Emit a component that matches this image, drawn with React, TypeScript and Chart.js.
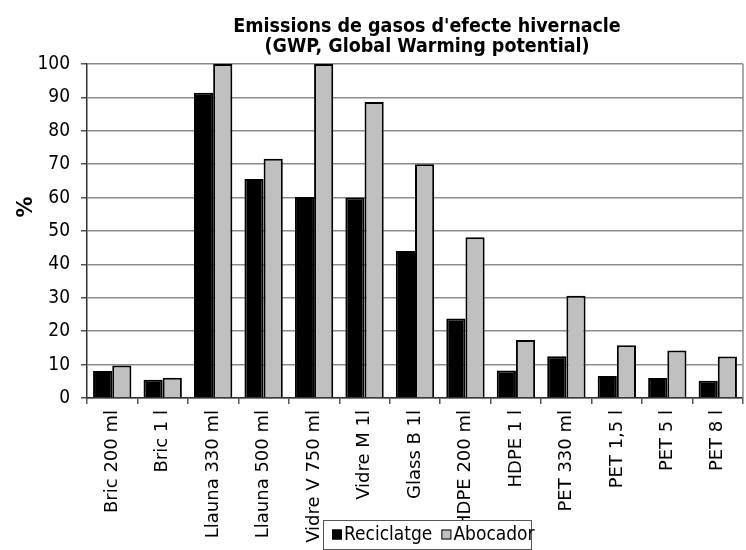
import React, { useEffect, useRef } from "react";
import { Chart, registerables } from "chart.js";

Chart.register(...registerables);

const categories = [
  "Bric 200 ml", "Bric 1 l", "Llauna 330 ml", "Llauna 500 ml", "Vidre V 750 ml",
  "Vidre M 1l", "Glass B 1l", "HDPE 200 ml", "HDPE 1 l", "PET 330 ml",
  "PET 1,5 l", "PET 5 l", "PET 8 l",
];
const reciclatge = [8.1, 5.5, 91.4, 65.6, 60.2, 60.0, 44.0, 23.8, 8.2, 12.5, 6.6, 6.0, 5.2];
const abocador = [9.7, 6.1, 100, 71.6, 100, 88.6, 70.0, 48.1, 17.4, 30.6, 15.8, 14.2, 12.4];
const titleLines = ["Emissions de gasos d'efecte hivernacle", "(GWP, Global Warming potential)"];
const yTitle = "%";
const seriesNames = ["Reciclatge", "Abocador"];
const seriesColors = ["#000000", "#c0c0c0"];

const FONT = "'DejaVu Sans', sans-serif";
const FONT_C = "'DejaVu Sans Condensed', 'DejaVu Sans', sans-serif";

const extrasPlugin = {
  id: "extras",
  afterDraw(chart: any) {
    const { ctx, chartArea } = chart;
    ctx.save();
    // right border of plot
    ctx.strokeStyle = "#8c8c8c";
    ctx.lineWidth = 1.5;
    ctx.beginPath();
    ctx.moveTo(chartArea.right, chartArea.top);
    ctx.lineTo(chartArea.right, chartArea.bottom);
    ctx.stroke();
    // title
    ctx.fillStyle = "#000";
    ctx.font = `bold 19.5px ${FONT_C}`;
    ctx.textAlign = "center";
    ctx.textBaseline = "middle";
    const cx = (chartArea.left + chartArea.right) / 2 + 12;
    ctx.fillText(titleLines[0], cx, 27);
    ctx.fillText(titleLines[1], cx, 47);
    // y title
    ctx.save();
    ctx.translate(27, 207);
    ctx.rotate(-Math.PI / 2);
    ctx.font = `bold 21px ${FONT}`;
    ctx.fillText(yTitle, 0, 0);
    ctx.restore();
    // legend
    const lx = 323, ly = 520, lw = 208, lh = 29;
    ctx.fillStyle = "#fff";
    ctx.fillRect(lx, ly, lw, lh);
    ctx.strokeStyle = "#555";
    ctx.lineWidth = 1;
    ctx.strokeRect(lx + 0.5, ly + 0.5, lw, lh);
    ctx.font = `19px ${FONT_C}`;
    ctx.textAlign = "left";
    let x = lx + 9;
    const cy = ly + lh / 2;
    seriesNames.forEach((name, i) => {
      ctx.fillStyle = seriesColors[i];
      ctx.fillRect(x, cy - 5, 10, 10);
      ctx.strokeStyle = "#000";
      ctx.lineWidth = 1;
      ctx.strokeRect(x + 0.5, cy - 4.5, 9, 9);
      ctx.fillStyle = "#000";
      ctx.fillText(name, x + 12, cy + 1);
      x += 12 + ctx.measureText(name).width + 9;
    });
    ctx.restore();
  },
};

export default function App() {
  const ref = useRef<HTMLCanvasElement>(null);
  useEffect(() => {
    document.body.style.margin = "0";
    const chart = new Chart(ref.current!, {
      type: "bar",
      data: {
        labels: categories,
        datasets: [
          {
            label: seriesNames[0],
            data: reciclatge,
            backgroundColor: seriesColors[0],
            borderColor: "#000",
            borderWidth: 2,
            categoryPercentage: 0.76,
            barPercentage: 1,
          },
          {
            label: seriesNames[1],
            data: abocador,
            backgroundColor: seriesColors[1],
            borderColor: "#000",
            borderWidth: 2,
            categoryPercentage: 0.76,
            barPercentage: 1,
          },
        ],
      },
      options: {
        animation: false,
        responsive: false,
        layout: { padding: { top: 64, right: 3, left: 0, bottom: 0 } },
        plugins: {
          legend: { display: false },
          title: { display: false },
          tooltip: { enabled: false },
        },
        scales: {
          x: {
            grid: { drawOnChartArea: false, drawTicks: true, tickLength: 6, color: "#555", lineWidth: 1.5 },
            border: { color: "#333", width: 1.5 },
            ticks: {
              color: "#000",
              font: { family: FONT, size: 18 },
              minRotation: 90,
              maxRotation: 90,
              autoSkip: false,
              padding: 6,
            },
            afterFit(scale: any) {
              scale.height = 152;
            },
          },
          y: {
            min: 0,
            max: 100,
            grid: { color: "#8c8c8c", lineWidth: 1.5, tickLength: 6, tickColor: "#555" },
            border: { color: "#333", width: 1.5 },
            ticks: {
              stepSize: 10,
              color: "#000",
              font: { family: FONT_C, size: 19 },
              padding: 11,
            },
            afterFit(scale: any) {
              scale.width = 87;
            },
          },
        },
      },
      plugins: [extrasPlugin],
    });
    return () => chart.destroy();
  }, []);
  return <canvas ref={ref} width={746} height={550} style={{ display: "block" }} />;
}
